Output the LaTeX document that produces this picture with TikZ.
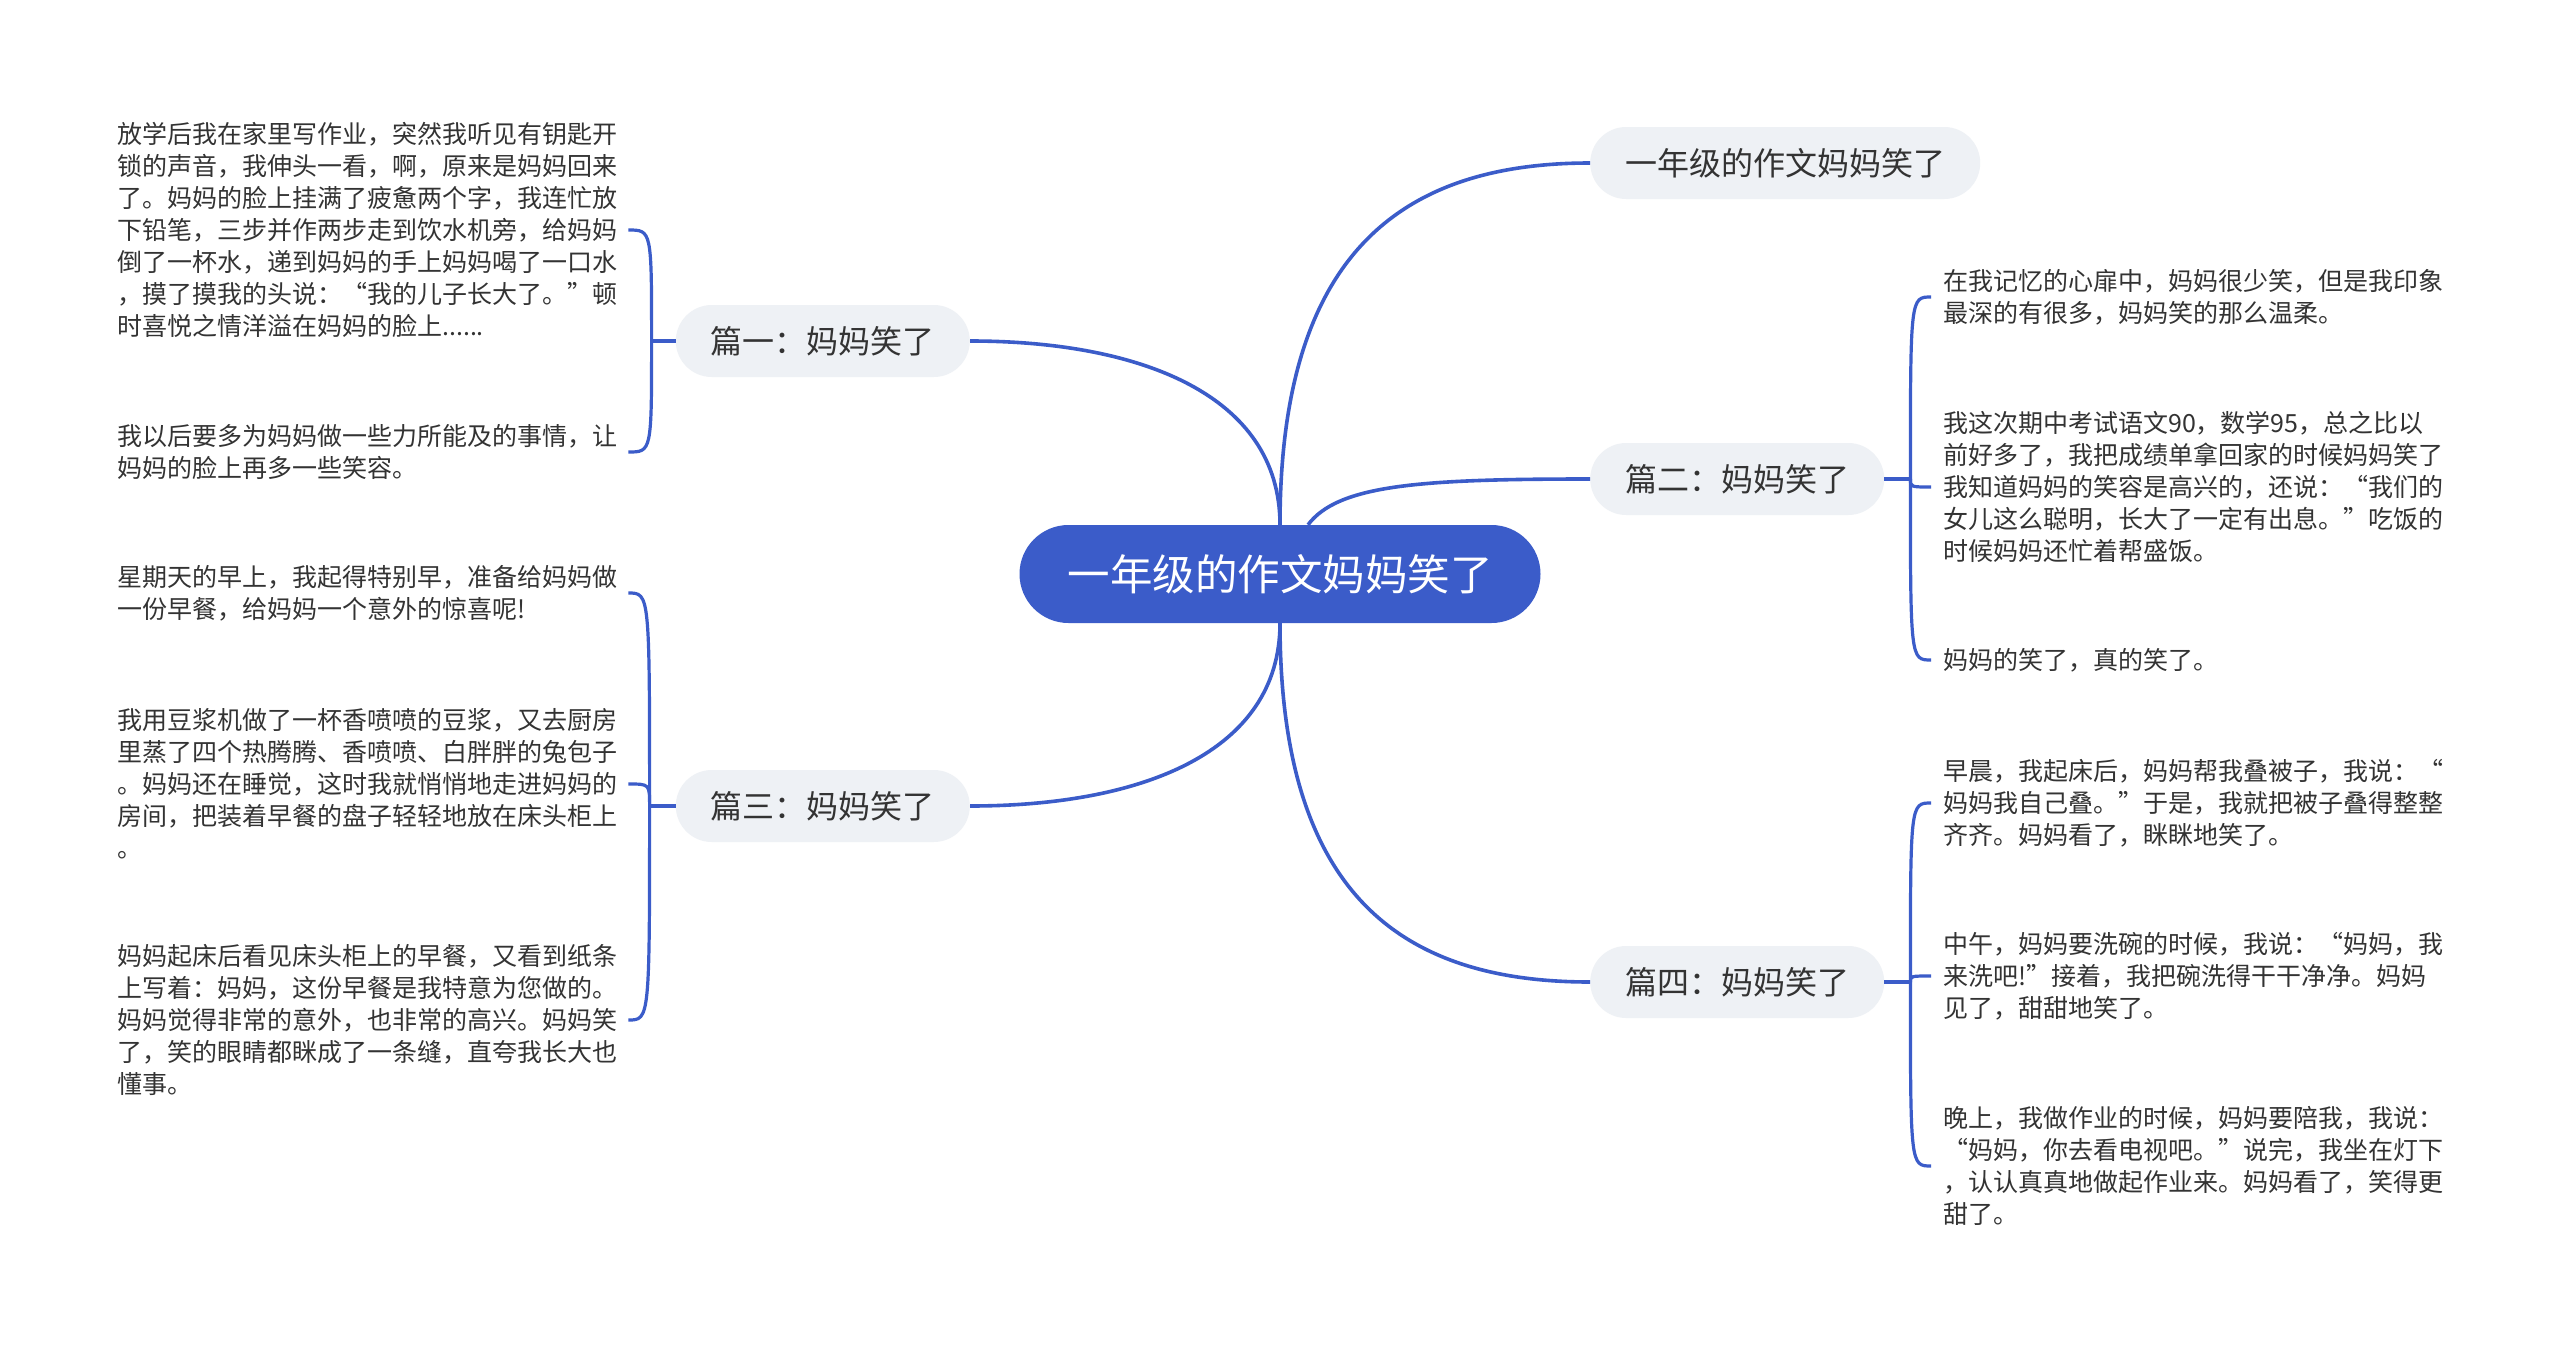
\documentclass[tikz,border=0pt]{standalone}
\usepackage{fontspec}
\newfontfamily\cjk{Noto Sans CJK SC}
\usepackage{xcolor}
\usepackage{tikz}

\definecolor{mapblue}{HTML}{3B5CC9}
\definecolor{topicgray}{HTML}{EEF1F5}
\definecolor{inkgray}{HTML}{333333}

\begin{document}
\begin{tikzpicture}[x=1pt,y=1pt,
    root/.style={fill=mapblue,text=white,rounded corners=49pt,minimum height=98pt,
      inner xsep=48pt,font={\cjk\fontsize{42.5}{50}\selectfont}},
    topic/.style={fill=topicgray,text=inkgray,rounded corners=36pt,minimum height=72pt,
      inner xsep=35pt,font={\cjk\fontsize{32}{40}\selectfont}},
    leaf/.style={text=inkgray,text width=500pt,align=left,inner sep=0pt,
      font={\cjk\fontsize{25}{32}\selectfont}},
    branch/.style={draw=mapblue,line width=3.6pt},
    twig/.style={draw=mapblue,line width=3.2pt}]

  \fill[white] (0,0) rectangle (2560,-1349);

  % centre and first level
  \node[root] (root) at (1280,-574) {一年级的作文妈妈笑了};
  \node[topic,anchor=west] (t0) at (1590,-163) {一年级的作文妈妈笑了};
  \node[topic,anchor=west] (p2) at (1590,-479) {篇二：妈妈笑了};
  \node[topic,anchor=west] (p4) at (1590,-982) {篇四：妈妈笑了};
  \node[topic,anchor=east] (p1) at (970,-341) {篇一：妈妈笑了};
  \node[topic,anchor=east] (p3) at (970,-806) {篇三：妈妈笑了};

  \draw[branch] (root.north) .. controls +(0,270) and +(-190,0) .. (t0.west);
  \draw[branch] ([xshift=28pt]root.north) .. controls +(30,40) and +(-170,0) .. (p2.west);
  \draw[branch] (root.south) .. controls +(0,-270) and +(-190,0) .. (p4.west);
  \draw[branch] (root.north) .. controls +(0,130) and +(170,0) .. (p1.east);
  \draw[branch] (root.south) .. controls +(0,-130) and +(170,0) .. (p3.east);

  % 篇一
  \node[leaf,anchor=west] (l1a) at (117,-230) {放学后我在家里写作业，突然我听见有钥匙开\\锁的声音，我伸头一看，啊，原来是妈妈回来\\了。妈妈的脸上挂满了疲惫两个字，我连忙放\\下铅笔，三步并作两步走到饮水机旁，给妈妈\\倒了一杯水，递到妈妈的手上妈妈喝了一口水\\，摸了摸我的头说：“我的儿子长大了。”顿\\时喜悦之情洋溢在妈妈的脸上......};
  \node[leaf,anchor=west] (l1b) at (117,-452) {我以后要多为妈妈做一些力所能及的事情，让\\妈妈的脸上再多一些笑容。};
  \coordinate (f1) at ([xshift=-24pt]p1.west);
  \draw[twig] (p1.west) -- (f1);
  \foreach \leafname in {l1a,l1b}
    \draw[twig] (f1) .. controls (f1 |- \leafname.east) .. ([xshift=11pt]\leafname.east);

  % 篇三
  \node[leaf,anchor=west] (l3a) at (117,-593) {星期天的早上，我起得特别早，准备给妈妈做\\一份早餐，给妈妈一个意外的惊喜呢!};
  \node[leaf,anchor=west] (l3b) at (117,-784) {我用豆浆机做了一杯香喷喷的豆浆，又去厨房\\里蒸了四个热腾腾、香喷喷、白胖胖的兔包子\\。妈妈还在睡觉，这时我就悄悄地走进妈妈的\\房间，把装着早餐的盘子轻轻地放在床头柜上\\。};
  \node[leaf,anchor=west] (l3c) at (117,-1020) {妈妈起床后看见床头柜上的早餐，又看到纸条\\上写着：妈妈，这份早餐是我特意为您做的。\\妈妈觉得非常的意外，也非常的高兴。妈妈笑\\了，笑的眼睛都眯成了一条缝，直夸我长大也\\懂事。};
  \coordinate (f3) at ([xshift=-26pt]p3.west);
  \draw[twig] (p3.west) -- (f3);
  \foreach \leafname in {l3a,l3b,l3c}
    \draw[twig] (f3) .. controls (f3 |- \leafname.east) .. ([xshift=11pt]\leafname.east);

  % 篇二
  \node[leaf,anchor=west] (r2a) at (1943,-297) {在我记忆的心扉中，妈妈很少笑，但是我印象\\最深的有很多，妈妈笑的那么温柔。};
  \node[leaf,anchor=west] (r2b) at (1943,-487) {我这次期中考试语文90，数学95，总之比以\\前好多了，我把成绩单拿回家的时候妈妈笑了\\我知道妈妈的笑容是高兴的，还说：“我们的\\女儿这么聪明，长大了一定有出息。”吃饭的\\时候妈妈还忙着帮盛饭。};
  \node[leaf,anchor=west] (r2c) at (1943,-660) {妈妈的笑了，真的笑了。};
  \coordinate (f2) at ([xshift=26pt]p2.east);
  \draw[twig] (p2.east) -- (f2);
  \foreach \leafname in {r2a,r2b,r2c}
    \draw[twig] (f2) .. controls (f2 |- \leafname.west) .. ([xshift=-12pt]\leafname.west);

  % 篇四
  \node[leaf,anchor=west] (r4a) at (1943,-803) {早晨，我起床后，妈妈帮我叠被子，我说：“\\妈妈我自己叠。”于是，我就把被子叠得整整\\齐齐。妈妈看了，眯眯地笑了。};
  \node[leaf,anchor=west] (r4b) at (1943,-976) {中午，妈妈要洗碗的时候，我说：“妈妈，我\\来洗吧!”接着，我把碗洗得干干净净。妈妈\\见了，甜甜地笑了。};
  \node[leaf,anchor=west] (r4c) at (1943,-1166) {晚上，我做作业的时候，妈妈要陪我，我说：\\“妈妈，你去看电视吧。”说完，我坐在灯下\\，认认真真地做起作业来。妈妈看了，笑得更\\甜了。};
  \coordinate (f4) at ([xshift=26pt]p4.east);
  \draw[twig] (p4.east) -- (f4);
  \foreach \leafname in {r4a,r4b,r4c}
    \draw[twig] (f4) .. controls (f4 |- \leafname.west) .. ([xshift=-12pt]\leafname.west);
\end{tikzpicture}
\end{document}
